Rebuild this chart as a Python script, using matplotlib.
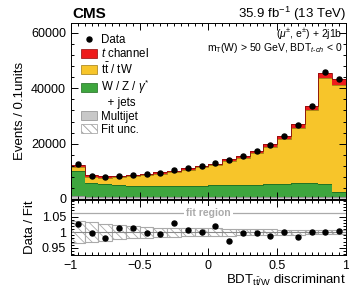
import numpy as np
import matplotlib
matplotlib.use("Agg")
import matplotlib.pyplot as plt
from matplotlib.patches import Patch
from matplotlib.lines import Line2D
from matplotlib.ticker import MultipleLocator, FixedLocator, FuncFormatter

plt.rcParams['font.family'] = ['Liberation Sans', 'DejaVu Sans']
plt.rcParams['mathtext.fontset'] = 'custom'
plt.rcParams['mathtext.rm'] = 'Liberation Sans'
plt.rcParams['mathtext.it'] = 'Liberation Sans:italic'
plt.rcParams['hatch.color'] = '#9a9a9a'
plt.rcParams['hatch.linewidth'] = 0.6

# binning of the BDT discriminant
edges = np.linspace(-1, 1, 21)

# stacked fit components (events per bin)
multijet = [1200, 900, 850, 850, 850, 850, 850, 850, 850, 850,
            850, 850, 850, 850, 850, 850, 850, 850, 850, 700]
wzjets = [8800, 4800, 4550, 4100, 4000, 4000, 4000, 4000, 4000, 4000,
          4150, 4150, 4300, 4350, 4700, 4750, 4800, 4800, 4750, 1700]
ttbar = [1540, 2350, 2340, 2890, 3370, 3870, 4350, 4940, 5740, 6710,
         7150, 8710, 9700, 11320, 13410, 16170, 20180, 26390, 38010, 38770]
tchan = [600, 450, 400, 400, 400, 400, 420, 450, 480, 520,
         560, 620, 700, 800, 900, 1000, 1200, 1450, 2100, 2200]

data = [12470, 8470, 8000, 8360, 8730, 9090, 9560, 10540, 11130, 12100,
        12950, 13930, 15500, 17300, 19640, 22770, 26650, 33560, 45800, 43500]

# relative fit uncertainty per bin
fit_unc = [0.036, 0.032, 0.027, 0.022, 0.019, 0.017, 0.015, 0.014, 0.013, 0.012,
           0.012, 0.011, 0.010, 0.010, 0.009, 0.008, 0.008, 0.007, 0.007, 0.007]

components = [
    (multijet, '#c8c8c8', '#8a8a8a'),
    (wzjets, '#3ea63e', '#1f6b1f'),
    (ttbar, '#f7c52a', '#a07c10'),
    (tchan, '#ee1c1c', '#8c0a0a'),
]

fig = plt.figure(figsize=(3.49, 2.90), dpi=100)
ax = fig.add_axes([0.2034, 0.3138, 0.788, 0.6069])
axr = fig.add_axes([0.2034, 0.1207, 0.788, 0.1896], sharex=ax)

centers = 0.5 * (edges[:-1] + edges[1:])
width = edges[1:] - edges[:-1]
bottom = np.zeros(20)
for vals, col, ecol in components:
    vals = np.array(vals, dtype=float)
    ax.bar(edges[:-1], vals, width=width, bottom=bottom, align='edge',
           color=col, edgecolor='none', linewidth=0)
    top = bottom + vals
    ax.stairs(top, edges, color=ecol, linewidth=0.6)
    bottom = top
total = bottom

ax.errorbar(centers, data, yerr=np.sqrt(data), fmt='o', color='black',
            markersize=3.6, elinewidth=0.8, capsize=0)

ax.set_xlim(-1, 1)
ax.set_ylim(0, 63600)
ax.yaxis.set_major_locator(MultipleLocator(20000))
ax.yaxis.set_minor_locator(MultipleLocator(4000))
ax.xaxis.set_major_locator(MultipleLocator(0.5))
ax.xaxis.set_minor_locator(MultipleLocator(0.05))
for a in (ax, axr):
    a.tick_params(which='both', direction='in', top=True, right=True,
                  labelsize=9, width=0.7)
    a.tick_params(which='major', length=5)
    a.tick_params(which='minor', length=2.5)
    for s in a.spines.values():
        s.set_linewidth(0.7)
ax.tick_params(labelbottom=False)
ax.set_ylabel('Events / 0.1units', fontsize=9.5, labelpad=4)

fig.text(0.206, 0.952, 'CMS', fontsize=11, fontweight='bold', ha='left', va='center')
fig.text(0.991, 0.952, r'35.9 fb$^{-1}$ (13 TeV)', fontsize=9.5, ha='right', va='center')
ax.text(0.985, 0.975, r'($\mu^{\pm}$, e$^{\pm}$) + 2j1b', transform=ax.transAxes,
        fontsize=7.5, ha='right', va='top')
ax.text(0.985, 0.895, r'm$_{\rm T}$(W) > 50 GeV, BDT$_{\it{t}\text{-}{ch}}$ < 0',
        transform=ax.transAxes, fontsize=7.5, ha='right', va='top')

handles = [
    Line2D([], [], marker='o', color='black', markersize=3.6, linestyle='none'),
    Patch(facecolor='#ee1c1c', edgecolor='#8c0a0a', linewidth=0.5),
    Patch(facecolor='#f7c52a', edgecolor='#a07c10', linewidth=0.5),
    Patch(facecolor='#3ea63e', edgecolor='#1f6b1f', linewidth=0.5),
    Line2D([], [], linestyle='none'),
    Patch(facecolor='#c8c8c8', edgecolor='#8a8a8a', linewidth=0.5),
    Patch(facecolor='white', edgecolor='#9a9a9a', hatch='\\\\\\\\', linewidth=0.5),
]
labels = ['Data', r'$\it{t}$ channel', r't$\bar{\rm t}$ / tW', r'W / Z / $\gamma^{*}$',
          '  + jets', 'Multijet', 'Fit unc.']
ax.legend(handles, labels, loc='upper left', bbox_to_anchor=(0.01, 0.975),
          frameon=False, fontsize=8.3, handlelength=1.45, handleheight=0.8,
          handletextpad=0.3, labelspacing=0.1, borderaxespad=0.2)

# ratio panel
ratio = np.array(data) / total
unc = np.array(fit_unc)
axr.bar(edges[:-1], 2 * unc, width=width, bottom=1 - unc, align='edge',
        facecolor='white', edgecolor='#aaaaaa', hatch='\\\\\\\\', linewidth=0.8)
axr.axhline(1, color='#888888', linewidth=0.8)
axr.plot(centers, ratio, 'o', color='black', markersize=3.6)
axr.axhline(1.06, color='#aaaaaa', linewidth=0.9)
axr.text(0.0, 1.06, 'fit region', fontsize=7.5, color='#aaaaaa', fontweight='bold',
         ha='center', va='center',
         bbox=dict(facecolor='white', edgecolor='none', pad=1.5))
axr.set_ylim(0.927, 1.103)
axr.yaxis.set_major_locator(FixedLocator([0.95, 1.0, 1.05]))
axr.yaxis.set_minor_locator(MultipleLocator(0.01))
axr.yaxis.set_major_formatter(FuncFormatter(lambda v, p: ('%.2f' % v).rstrip('0').rstrip('.')))
axr.xaxis.set_major_formatter(FuncFormatter(lambda v, p: ('%.1f' % v).rstrip('0').rstrip('.').replace('-', '\u2212')))
axr.set_ylabel('Data / Fit', fontsize=9.5, labelpad=4)
axr.set_xlabel(r'BDT$_{\rm t\bar{t}/W}$ discriminant', fontsize=9.5, loc='right', labelpad=1)
fig.align_ylabels([ax, axr])

fig.savefig('out.png', dpi=100)
